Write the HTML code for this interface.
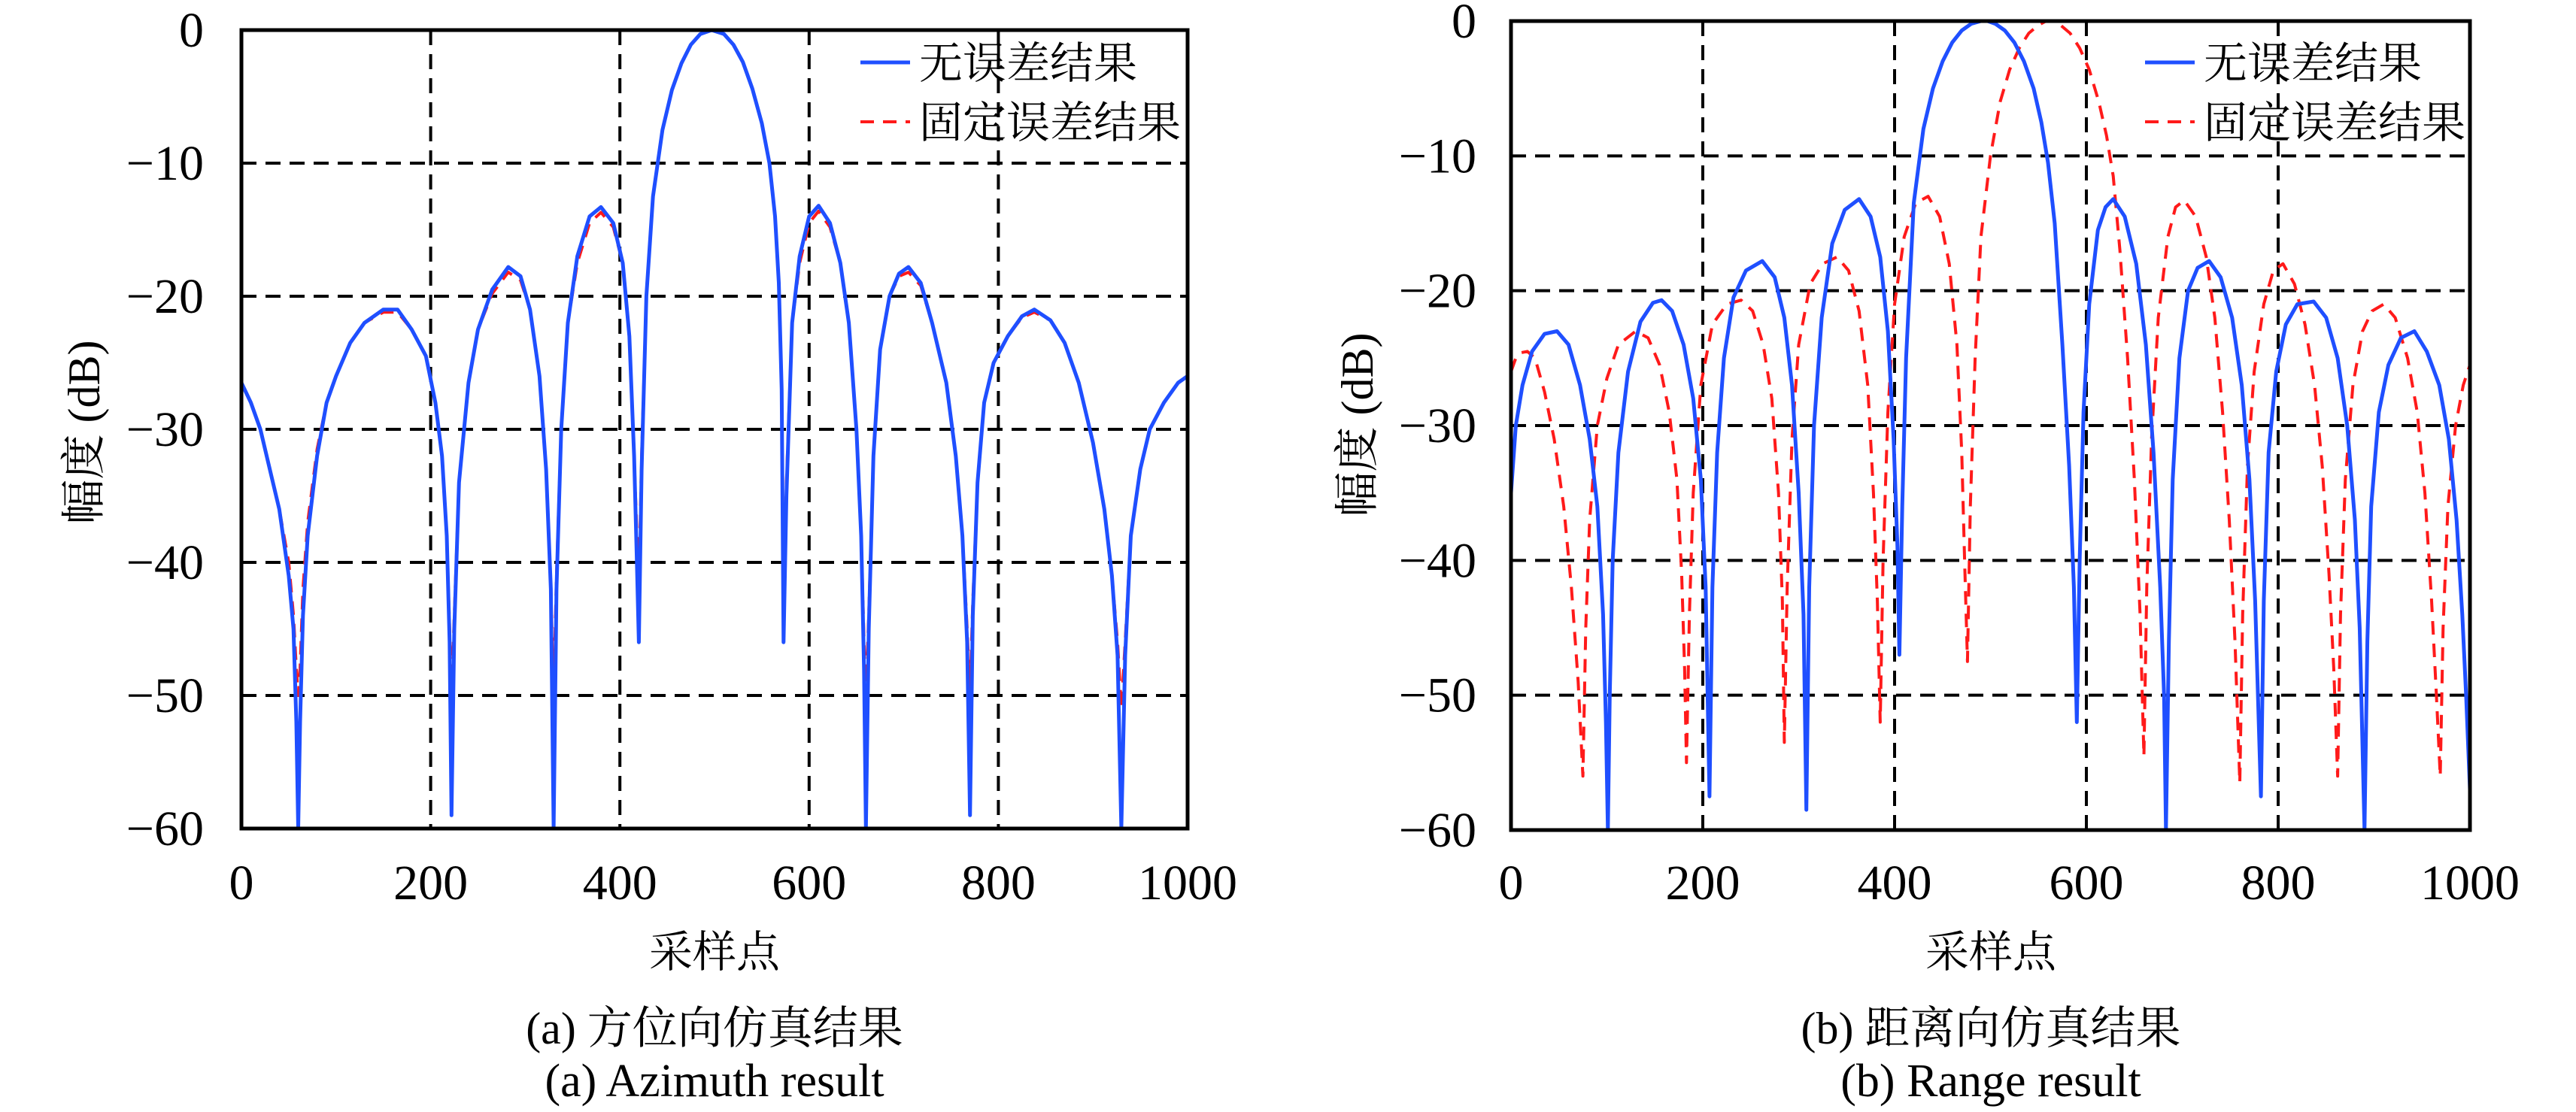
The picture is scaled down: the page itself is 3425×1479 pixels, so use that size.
<!DOCTYPE html>
<html><head><meta charset="utf-8">
<style>
html,body{margin:0;padding:0;background:#fff;}
svg{display:block;}
</style></head>
<body>
<svg id="fig" width="3425" height="1479" viewBox="0 0 3425 1479" xmlns="http://www.w3.org/2000/svg"></svg>
<script>
const xTicks=[0,200,400,600,800,1000];
const yTicks=[0,-10,-20,-30,-40,-50,-60];
const legendLabels=["无误差结果","固定误差结果"];

const azBlueX=[0,10,20,30,40,50,55,58,60,62,65,70,80,90,100,115,130,150,165,180,195,205,212,217,220,222,225,230,240,250,265,282,295,305,315,322,327,330,333,338,345,355,368,380,393,403,410,415,418,420,423,428,435,445,455,465,475,485,497,510,520,530,540,550,558,564,568,571,573,576,582,590,600,610,622,633,642,650,655,658,660,663,668,675,685,695,705,718,730,745,755,762,767,770,773,778,785,795,810,825,838,855,870,885,900,912,920,926,930,934,940,950,960,975,990,1000];
const azBlueY=[-26.5,-28,-30,-33,-36,-41,-45,-52,-60,-52,-44,-38,-32,-28,-26,-23.5,-22,-21,-21,-22.5,-24.5,-28,-32,-38,-46,-59,-45,-34,-26.5,-22.5,-19.5,-17.8,-18.5,-21,-26,-33,-42,-60,-42,-30,-22,-17,-14,-13.3,-14.5,-17.5,-23,-32,-40,-46,-33,-20,-12.5,-7.5,-4.5,-2.5,-1.1,-0.3,0,-0.3,-1.1,-2.4,-4.4,-7,-10,-14,-19,-27,-46,-35,-22,-17,-14,-13.2,-14.5,-17.5,-22,-30,-38,-48,-60,-45,-32,-24,-20,-18.3,-17.8,-19,-22,-26.5,-32,-38,-46,-59,-44,-34,-28,-25,-23,-21.5,-21,-21.8,-23.5,-26.5,-31,-36,-41,-47,-60,-47,-38,-33,-30,-28,-26.5,-26];
const azRedX=[0,10,20,30,40,50,55,58,60,62,65,70,80,90,100,115,130,150,165,180,195,205,212,217,220,222,225,230,240,250,265,282,295,305,315,322,327,330,333,338,345,355,368,380,393,403,410,415,418,420,423,428,435,445,455,465,475,485,497,510,520,530,540,550,558,564,568,571,573,576,582,590,600,610,622,633,642,650,655,658,660,663,668,675,685,695,705,718,730,745,755,762,767,770,773,778,785,795,810,825,838,855,870,885,900,912,920,926,930,934,940,950,960,975,990,1000];
const azRedY=[-26.5,-28,-30,-33,-36,-40,-44,-48,-50,-48,-42,-37,-31.5,-28,-26,-23.5,-22,-21.2,-21.2,-22.5,-24.5,-28,-32,-38,-45,-50,-44,-34,-26.5,-22.5,-19.8,-18.2,-18.8,-21,-26,-33,-42,-50,-41,-30,-22,-17.5,-14.5,-13.7,-14.8,-17.5,-23,-32,-38,-42,-32,-20,-12.5,-7.5,-4.5,-2.5,-1.1,-0.3,0,-0.3,-1.1,-2.4,-4.4,-7,-10,-14,-19,-27,-42,-34,-22,-17.5,-14.5,-13.6,-14.8,-17.5,-22,-30,-38,-46,-50,-44,-32,-24,-20,-18.5,-18.2,-19.2,-22,-26.5,-32,-38,-45,-50,-43,-34,-28,-25,-23,-21.6,-21.2,-21.8,-23.5,-26.5,-31,-36,-41,-46,-51,-46,-38,-33,-30,-28,-26.5,-26];

const rgBlueX=[0,5,12,22,35,48,60,72,82,90,96,99,101,103,106,112,122,135,148,157,168,180,190,198,203,207,210,215,222,232,245,262,275,285,293,300,305,308,311,316,324,335,348,363,375,385,393,399,403,405,408,412,420,430,440,450,460,470,480,490,497,505,515,525,535,545,553,560,567,575,582,587,590,593,597,603,612,620,628,640,652,662,670,677,681,683,686,690,697,706,716,728,740,752,762,770,776,782,785,790,798,808,820,837,850,862,872,880,885,890,893,897,905,915,928,942,955,968,978,986,992,996,1000];
const rgBlueY=[-35,-30,-27,-24.5,-23.2,-23,-24,-27,-31,-36,-44,-52,-60,-50,-40,-32,-26,-22.3,-20.9,-20.7,-21.5,-24,-28,-34,-42,-57.5,-42,-32,-25,-20.5,-18.5,-17.8,-19,-22,-27,-35,-44,-58.5,-42,-30,-22,-16.5,-14,-13.2,-14.5,-17.5,-23,-31,-39,-47,-36,-25,-13.5,-8,-5,-3,-1.6,-0.7,-0.2,0,0,-0.2,-0.7,-1.6,-3,-5,-7.5,-10.5,-15,-24,-33,-42,-52,-40,-29,-21,-15.5,-13.8,-13.2,-14.5,-18,-24,-32,-42,-50,-60,-46,-34,-25,-20,-18.3,-17.8,-19,-22,-27,-34,-43,-57.5,-43,-32,-26,-22.5,-21,-20.8,-22,-25,-30,-37,-45,-60,-46,-36,-29,-25.5,-23.5,-23,-24.5,-27,-31,-37,-44,-50,-57];
const rgRedX=[0,5,10,17,25,35,45,55,63,70,75,78,82,90,100,112,130,143,155,165,173,178,181,183,186,190,198,210,225,240,252,263,272,279,283,285,288,293,300,312,325,340,352,363,372,378,382,385,388,393,400,410,422,435,447,457,465,470,473,476,479,484,490,500,510,520,530,540,550,558,565,573,583,593,603,613,621,628,635,643,650,656,660,663,668,675,685,693,702,714,725,734,742,749,755,760,763,768,775,785,795,805,817,828,838,846,853,858,862,865,870,878,888,898,910,922,935,945,953,960,965,969,972,977,985,993,1000];
const rgRedY=[-26,-25,-24.6,-24.5,-25,-27.5,-31,-36,-42,-49,-56,-45,-37,-30,-26.5,-24,-23,-23.5,-25.5,-29,-34,-41,-48,-55,-44,-35,-27,-22.5,-21,-20.7,-21.5,-24,-28,-35,-43,-53.5,-42,-31,-24,-19.5,-18,-17.5,-18.5,-21.5,-27,-35,-43,-52,-40,-29,-21,-16,-13.5,-13,-14.5,-18,-24,-32,-40,-47.5,-36,-25,-16,-10,-6,-3.6,-2,-0.9,-0.3,0,0,-0.3,-0.9,-2,-3.6,-6,-8.5,-11.5,-17,-25,-34,-44,-54.5,-42,-31,-22,-16,-13.8,-13.3,-14.5,-17.5,-22,-29,-37,-46,-56.5,-44,-33,-26,-21,-18.5,-18,-19.5,-22.5,-27,-33,-41,-48,-56,-44,-34,-27,-23,-21.5,-21,-22,-25,-29,-35,-43,-50,-56,-45,-36,-30,-27,-25.5];

const NS="http://www.w3.org/2000/svg";
const SERIF='"Liberation Serif", "Noto Serif CJK SC", serif';
const CJK='"Liberation Serif", "Noto Serif CJK SC", "Noto Sans CJK SC", serif';
const svg=document.getElementById('fig');
function mk(tag,attrs,parent){const e=document.createElementNS(NS,tag);for(const k in attrs)e.setAttribute(k,attrs[k]);(parent||svg).appendChild(e);return e;}

function panel(cfg){
  const g=mk('g',{});
  
  
  const L=cfg.L,R=cfg.R,T=cfg.T,B=cfg.B;
  const sx=v=>L+(v-0)/1000*(R-L);
  const sy=v=>T+(0-v)/60*(B-T);
  xTicks.forEach(t=>{ if(t>0&&t<1000){const l=mk('line',{x1:sx(t),x2:sx(t),y1:T,y2:B,stroke:'#000','stroke-width':4,'stroke-dasharray':'20 12'},g);
    
    }});
  yTicks.forEach(t=>{ if(t<0&&t>-60){const l=mk('line',{x1:L,x2:R,y1:sy(t),y2:sy(t),stroke:'#000','stroke-width':4,'stroke-dasharray':'20 12'},g);
    
    }});
  const series=[[cfg.redX,cfg.redY,'#ff1a1a',4,'18 12','series-fixed-error'],[cfg.blueX,cfg.blueY,'#1f4fff',5,null,'series-no-error']];
  series.forEach(s=>{
    const d=s[0].map((x,i)=>(i?'L':'M')+sx(x).toFixed(1)+','+sy(s[1][i]).toFixed(1)).join('');
    const a={d:d,fill:'none',stroke:s[2],'stroke-width':s[3],'stroke-linejoin':'round'};
    if(s[4])a['stroke-dasharray']=s[4];
    const p=mk('path',a,g);
    
    
  });
  const fr=mk('rect',{x:L,y:T,width:R-L,height:B-T,fill:'none',stroke:'#000','stroke-width':5},g);
  
  
  xTicks.forEach(t=>{const e=mk('text',{x:sx(t),y:cfg.xLabY,'font-size':66,'text-anchor':'middle','font-family':SERIF},g);e.textContent=String(t);
    
    });
  yTicks.forEach(t=>{const e=mk('text',{x:cfg.yLabX,y:sy(t)+22,'font-size':66,'text-anchor':'end','font-family':SERIF},g);e.textContent=t<0?'\u2212'+(-t):String(t);
    
    });
  const xt=mk('text',{x:cfg.cx,y:1286,'font-size':58,'text-anchor':'middle','font-family':CJK},g);xt.textContent='采样点';
  
  
  const yt=mk('text',{x:0,y:0,'font-size':60,'text-anchor':'middle','font-family':CJK,transform:`translate(${cfg.yTitleX},${cfg.yTitleY}) rotate(-90)`},g);yt.textContent='幅度 (dB)';
  
  
  const c1=mk('text',{x:cfg.cx,y:1388,'font-size':60,'text-anchor':'middle','font-family':CJK},g);c1.textContent=cfg.cap1;
  
  
  const c2=mk('text',{x:cfg.cx,y:1458,'font-size':62,'text-anchor':'middle','font-family':SERIF},g);c2.textContent=cfg.cap2;
  
  
  const lg=mk('g',{},g);
  
  
  const l1=mk('line',{x1:cfg.legX,x2:cfg.legX+66,y1:83,y2:83,stroke:'#1f4fff','stroke-width':5},lg);
  
  
  const t1=mk('text',{x:cfg.legX+78,y:104,'font-size':58,'font-family':CJK},lg);t1.textContent=legendLabels[0];
  
  
  const l2=mk('line',{x1:cfg.legX,x2:cfg.legX+66,y1:162,y2:162,stroke:'#ff1a1a','stroke-width':4,'stroke-dasharray':'18 12'},lg);
  
  
  const t2=mk('text',{x:cfg.legX+78,y:183,'font-size':58,'font-family':CJK},lg);t2.textContent=legendLabels[1];
  
  
}

panel({name:'azimuth-chart',L:321,R:1579,T:40,B:1102,xLabY:1196,yLabX:271,cx:950,yTitleX:132,yTitleY:575,
  legX:1144,cap1:'(a) 方位向仿真结果',cap2:'(a) Azimuth result',
  blueX:azBlueX,blueY:azBlueY,redX:azRedX,redY:azRedY});
panel({name:'range-chart',L:2009,R:3284,T:28,B:1104,xLabY:1196,yLabX:1963,cx:2647,yTitleX:1825,yTitleY:565,
  legX:2852,cap1:'(b) 距离向仿真结果',cap2:'(b) Range result',
  blueX:rgBlueX,blueY:rgBlueY,redX:rgRedX,redY:rgRedY});
</script>
</body></html>
